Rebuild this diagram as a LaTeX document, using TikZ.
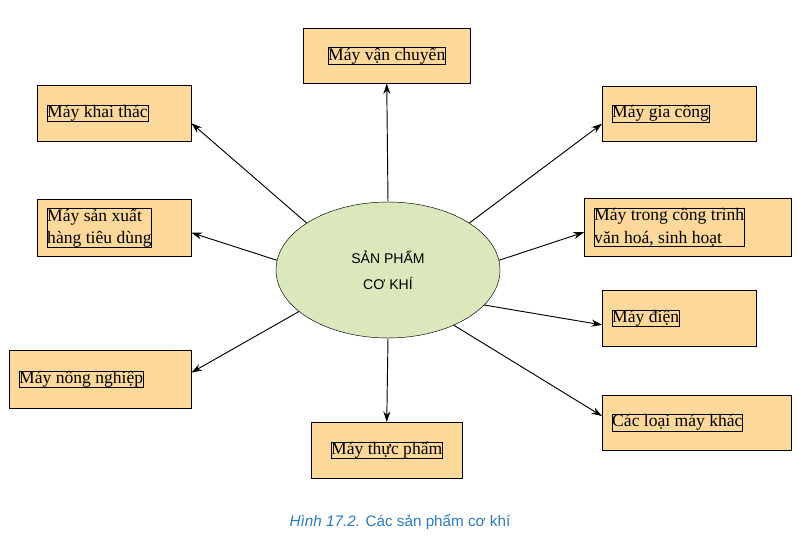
\documentclass[tikz,border=0pt]{standalone}
\usepackage{fontspec}
\setmainfont{Liberation Serif}
\setsansfont{Liberation Sans}
\usetikzlibrary{arrows.meta,shapes.geometric}
\definecolor{boxfill}{HTML}{FDD89B}
\definecolor{ellfill}{HTML}{DAE8BC}
\definecolor{capblue}{HTML}{2B7BC0}
\tikzset{
  mbox/.style={draw, fill=boxfill, inner sep=0pt, align=left,
    font=\fontsize{15}{19}\selectfont},
  arr/.style={-{Stealth[length=9pt,width=6pt]}, thick}
}
\begin{document}
\begin{tikzpicture}[x=0.03cm,y=-0.03cm]
\useasboundingbox (0,0) rectangle (798,541);

\node[draw, fill=ellfill, ellipse, inner sep=0pt,
  minimum width=6.72cm, minimum height=4.08cm, align=center,
  font=\sffamily\fontsize{12}{22}\selectfont] (sp) at (388,270) {SẢN PHẨM\\CƠ KHÍ};

\node[mbox, minimum width=5.01cm, minimum height=1.65cm, anchor=north west] (vc) at (303,28) {};
\node[mbox] at (vc) {Máy vận chuyển};
\node[mbox, minimum width=4.62cm, minimum height=1.68cm, anchor=north west] (kt) at (37,85) {};
\node[mbox, anchor=west] at ([xshift=0.3cm]kt.west) {Máy khai thác};
\node[mbox, minimum width=4.62cm, minimum height=1.65cm, anchor=north west] (gc) at (602,86) {};
\node[mbox, anchor=west] at ([xshift=0.3cm]gc.west) {Máy gia công};
\node[mbox, minimum width=4.62cm, minimum height=1.71cm, anchor=north west] (sx) at (37,199) {};
\node[mbox, anchor=west] at ([xshift=0.3cm]sx.west) {Máy sản xuất\\hàng tiêu dùng};
\node[mbox, minimum width=6.21cm, minimum height=1.74cm, anchor=north west] (ct) at (584,198) {};
\node[mbox, anchor=west] at ([xshift=0.3cm]ct.west) {Máy trong công trình\\văn hoá, sinh hoạt};
\node[mbox, minimum width=4.62cm, minimum height=1.68cm, anchor=north west] (dn) at (602,290) {};
\node[mbox, anchor=west] at ([xshift=0.3cm]dn.west) {Máy điện};
\node[mbox, minimum width=5.46cm, minimum height=1.74cm, anchor=north west] (nn) at (9,350) {};
\node[mbox, anchor=west] at ([xshift=0.3cm]nn.west) {Máy nông nghiệp};
\node[mbox, minimum width=4.53cm, minimum height=1.68cm, anchor=north west] (tp) at (311,422) {};
\node[mbox] at (tp) {Máy thực phẩm};
\node[mbox, minimum width=5.67cm, minimum height=1.65cm, anchor=north west] (kh) at (602,395) {};
\node[mbox, anchor=west] at ([xshift=0.3cm]kh.west) {Các loại máy khác};

% connectors
\draw[arr] (sp.north) -- (vc.south);
\draw[arr] (sp.south) -- (tp.north);
\draw[arr] (sp.150) -- ([yshift=-0.3cm]kt.east);
\draw[arr] (sp.30) -- ([yshift=-0.3cm]gc.west);
\draw[arr] (sp.175) -- ([yshift=-0.15cm]sx.east);
\draw[arr] (sp.5) -- ([yshift=-0.15cm]ct.west);
\draw[arr] (sp.-20) -- ([yshift=-0.2cm]dn.west);
\draw[arr] (sp.-155) -- ([yshift=0.2cm]nn.east);
\draw[arr] (sp.-40) -- ([yshift=0.2cm]kh.west);

\node[font=\sffamily\fontsize{13}{15}\selectfont, text=capblue] (cap) at (400,522)
  {\textit{Hình 17.2.} Các sản phẩm cơ khí};
\end{tikzpicture}
\end{document}
